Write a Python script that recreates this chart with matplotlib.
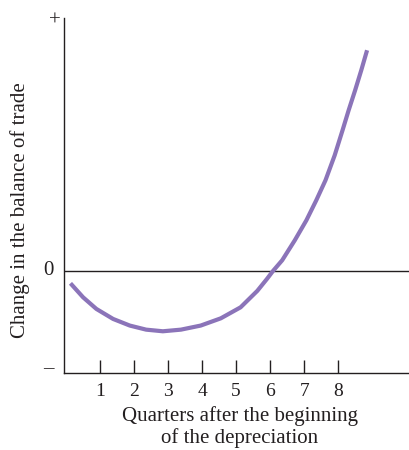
import matplotlib
matplotlib.use("Agg")
import matplotlib.pyplot as plt

# Data (arbitrary units; bottom of axis = -1)
quarters = [0.14, 0.51, 0.90, 1.39, 1.88, 2.36, 2.85, 3.38, 3.96, 4.55, 5.13,
            5.62, 5.91, 6.08, 6.35, 6.72, 7.06, 7.35, 7.62, 7.89, 8.12, 8.30,
            8.49, 8.67, 8.84]
balance = [-0.121, -0.258, -0.372, -0.470, -0.535, -0.575, -0.591, -0.575,
           -0.535, -0.464, -0.356, -0.195, -0.075, 0.0, 0.105, 0.301, 0.497,
           0.693, 0.889, 1.134, 1.379, 1.576, 1.772, 1.968, 2.164]
tick_positions = [1, 2, 3, 4, 5, 6, 7, 8]
tick_labels = ["1", "2", "3", "4", "5", "6", "7", "8"]
y_marks = [-1, 0, 2.48]
y_mark_labels = ["–", "0", "+"]

plt.rcParams["font.family"] = ["Liberation Serif", "DejaVu Serif"]
ink = "#231f20"
fs = 15

fig = plt.figure(figsize=(4.09, 4.50), dpi=100)
ax = fig.add_axes([64 / 409, 1 - 373 / 450, 1 - 64 / 409, (373 - 18) / 450])

ax.set_xlim(-0.05, 10.07)
ax.set_ylim(-1, 2.48)

ax.axhline(0, color=ink, lw=1.0, zorder=1)
ax.plot(quarters, balance, color="#8B74B9", lw=3.0, solid_capstyle="butt",
        solid_joinstyle="round", zorder=2)

for s in ["top", "right"]:
    ax.spines[s].set_visible(False)
for s in ["left", "bottom"]:
    ax.spines[s].set_color(ink)
    ax.spines[s].set_linewidth(1.0)

ax.set_xticks(tick_positions)
ax.set_xticklabels(tick_labels, fontsize=14, color=ink)
ax.tick_params(axis="x", direction="in", length=9.5, width=1.0, color=ink, pad=7)

ax.set_yticks([])
tr = ax.get_yaxis_transform()
ax.text(-0.045, y_marks[0] + 0.04, y_mark_labels[0], transform=tr, ha="center", va="center",
        fontsize=fs, color=ink)
ax.text(-0.045, y_marks[1], y_mark_labels[1], transform=tr, ha="center", va="center",
        fontsize=fs, color=ink)
ax.text(-0.025, y_marks[2] - 0.03, y_mark_labels[2], transform=tr, ha="center", va="center",
        fontsize=fs, color=ink)

fig.text(20 / 409, 1 - 210 / 450, "Change in the balance of trade", rotation=90,
         ha="center", va="center", fontsize=fs, color=ink)
fig.text(240 / 409, 1 - 427 / 450, "Quarters after the beginning\nof the depreciation",
         ha="center", va="center", fontsize=fs, color=ink, linespacing=1.12)

fig.savefig("out.png", dpi=100)
